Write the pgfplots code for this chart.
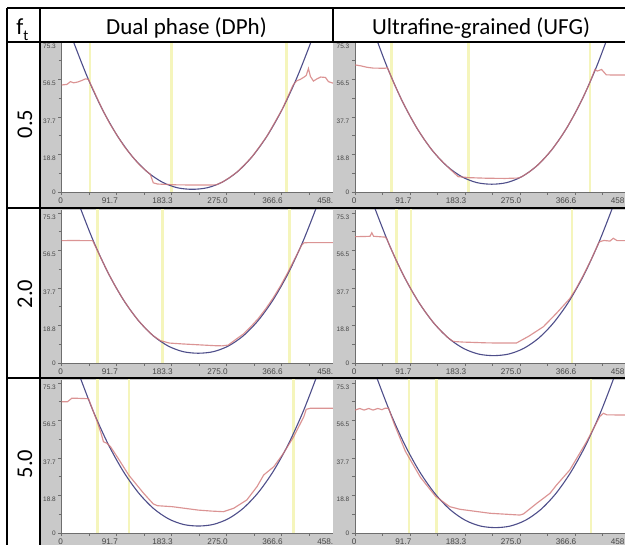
\documentclass[border=0pt]{standalone}
\usepackage{fontspec}
\setmainfont{Carlito}
\newfontfamily\ticksf{Liberation Sans}
\usepackage{pgfplots}
\pgfplotsset{compat=1.18}
\definecolor{panelgray}{RGB}{201,201,201}
\definecolor{axisgray}{RGB}{110,110,110}
\definecolor{labelgray}{RGB}{70,70,70}
\definecolor{bluec}{RGB}{78,78,138}
\definecolor{redc}{RGB}{210,118,118}
\definecolor{yellowc}{RGB}{245,245,188}
\pgfplotsset{
 panel/.style={
  scale only axis, width=274.9bp, anchor=south west,
  xmin=0, xmax=458.3, ymin=0,
  axis x line*=bottom, axis y line*=left,
  axis line style={draw=axisgray, line width=0.7bp, -},
  axis background/.style={fill=white},
  xtick={0,91.7,183.3,275.0,366.6,458.3},
  xticklabels={0,91.7,183.3,275.0,366.6,458.3},
  minor xtick={45.85,137.5,229.15,320.8,412.45},
  ytick={18.8,37.7,56.5,75.3},
  yticklabels={18.8,37.7,56.5,75.3},
  minor ytick={9.4,28.25,47.1,65.9},
  extra y ticks={0}, extra y tick labels={0},
  extra y tick style={yticklabel style={anchor=east, yshift=1.5bp}},
  tick align=outside, major tick length=3.5bp, minor tick length=3bp,
  every tick/.style={draw=axisgray, line width=0.6bp},
  tick label style={font=\ticksf\fontsize{8.2}{9}\selectfont, text=labelgray, inner sep=0pt},
  xticklabel style={anchor=north east, xshift=1.5bp, yshift=-2bp},
  yticklabel style={anchor=north east, xshift=-2bp, yshift=-1.5bp, font=\ticksf\fontsize{6.5}{7}\selectfont},
 },
 yel/.style={draw=yellowc, line width=2.6bp, no markers},
 blu/.style={draw=bluec, line width=1.1bp, smooth, no markers},
 rd/.style={draw=redc, line width=1.15bp, no markers, opacity=0.78},
}
\begin{document}
\begin{tikzpicture}[x=1bp,y=1bp]
\fill[white] (0,0) rectangle (625,545);
% column 2 cells
\fill[panelgray] (40,337) rectangle (333,503);
\fill[panelgray] (40,167) rectangle (333,337);
\fill[panelgray] (40,-5) rectangle (333,167);

% ---- DPh, 0.5
\begin{axis}[panel, at={(61.5bp,353bp)}, height=150bp, ymax=75.3]
\addplot[yel] coordinates {(47.5,0) (47.5,80)};
\addplot[yel] coordinates {(183.7,0) (183.7,80)};
\addplot[yel] coordinates {(375.4,0) (375.4,80)};
\addplot[blu] coordinates {(3,90.05) (18,77.0) (43,57.78) (68,41.52) (93,28.25) (118,17.82) (143,10.09) (168,4.94) (193,2.13) (218,1.35) (243,2.13) (268,4.94) (293,10.09) (318,17.82) (343,28.25) (368,41.52) (393,57.78) (418,77.0) (433,90.05)};
\addplot[rd] coordinates {(0,53.7) (9,54.0) (15,55.4) (20,54.8) (27,55.2) (34,56.0) (40,56.8) (45,56.5) (55,50.0) (68,41.52) (80,34.6) (93,28.25) (105,22.7) (118,17.82) (130,13.6) (143,10.09) (148,8.9) (153,4.6) (160,4.0) (190,3.6) (220,3.5) (245,3.5) (258,3.6) (268,4.94) (280,7.2) (293,10.09) (305,13.6) (318,17.82) (330,22.7) (343,28.25) (355,34.6) (368,41.52) (386,53.6) (392,55.8) (398,56.5) (404,57.6) (408,58.5) (411.7,62) (415,58) (420,55.7) (426,56.8) (432,57.7) (440,57.5) (445,55.4) (453,54.6) (458.3,54.6)};
\end{axis}

% ---- DPh, 2.0
\begin{axis}[panel, at={(61.5bp,182bp)}, height=153bp, ymax=76.8]
\addplot[yel] coordinates {(59.7,0) (59.7,80)};
\addplot[yel] coordinates {(168,0) (168,80)};
\addplot[yel] coordinates {(379.7,0) (379.7,80)};
\addplot[blu] coordinates {(13,93.6) (28,80.55) (53,61.33) (78,45.07) (103,31.8) (128,21.37) (153,13.64) (178,8.49) (203,5.68) (228,4.9) (253,5.68) (278,8.49) (303,13.64) (328,21.37) (353,31.8) (378,45.07) (403,61.33) (428,80.55) (443,93.6)};
\addplot[rd] coordinates {(0,61.4) (20,61.5) (40,61.4) (52,61.4) (65.5,52.8) (78,45.07) (90.5,38.1) (103,31.8) (115.5,26.25) (128,21.37) (140.5,17.19) (153,13.64) (165,11.2) (180,10.0) (200,9.6) (230,9.1) (255,8.7) (268,8.6) (278,9.0) (290.5,11.8) (303,14.5) (315.5,18.2) (328,22.3) (340.5,27.2) (353,32.7) (365.5,38.9) (378,45.8) (390.5,53.3) (400,59.0) (404,60.3) (410,60.4) (458.3,60.4)};
\end{axis}

% ---- DPh, 5.0
\begin{axis}[panel, at={(61.5bp,12bp)}, height=153bp, ymax=76.8]
\addplot[yel] coordinates {(59.7,0) (59.7,80)};
\addplot[yel] coordinates {(112.5,0) (112.5,80)};
\addplot[yel] coordinates {(386.4,0) (386.4,80)};
\addplot[blu] coordinates {(13,94.0) (28,80.66) (53,61.06) (78,44.47) (103,30.94) (128,20.3) (153,12.41) (178,7.16) (203,4.3) (228,3.5) (253,4.3) (278,7.16) (303,12.41) (328,20.3) (353,30.94) (378,44.47) (403,61.06) (428,80.66) (443,94.0)};
\addplot[rd] coordinates {(0,65.9) (10,65.9) (17,67.6) (27,67.6) (45,67.4) (53,61.06) (60,55.5) (66,50.0) (70,45.8) (76,45.0) (82,43.2) (95,37.2) (112,29.1) (137,19.9) (153,14.6) (160,13.7) (185,13.2) (228,11.5) (250,11.0) (270,10.7) (287,12.4) (309,16.6) (326,23.3) (337,29.1) (354,33.3) (370,40.0) (387,48.3) (404,58.4) (408,62.1) (415,62.6) (458.3,62.6)};
\end{axis}

% column 3 cells
\fill[panelgray] (333,337) rectangle (635,503);
\fill[panelgray] (333,167) rectangle (635,337);
\fill[panelgray] (333,-5) rectangle (635,167);

% ---- UFG, 0.5
\begin{axis}[panel, at={(355bp,353bp)}, height=150bp, ymax=75.3]
\addplot[yel] coordinates {(61,0) (61,80)};
\addplot[yel] coordinates {(188.9,0) (188.9,80)};
\addplot[yel] coordinates {(391.7,0) (391.7,80)};
\addplot[blu] coordinates {(13,97.0) (28,83.33) (53,63.15) (78,46.08) (103,32.15) (128,21.19) (153,13.08) (178,7.67) (203,4.72) (228,3.9) (253,4.72) (278,7.67) (303,13.08) (328,21.19) (353,32.15) (378,46.08) (403,63.15) (428,83.33) (443,97.0)};
\addplot[rd] coordinates {(0,63.8) (10,63.3) (20,62.6) (30,62.2) (50,62.1) (54,62.4) (65.5,54.2) (78,46.08) (90.5,38.76) (103,32.15) (115.5,26.32) (128,21.19) (140.5,16.8) (153,13.08) (164,9.9) (172,7.7) (190,7.2) (220,6.9) (250,6.8) (272,7.0) (278,7.67) (290.5,10.05) (303,13.08) (315.5,16.8) (328,21.19) (340.5,26.32) (353,32.15) (365.5,38.76) (378,46.08) (390.5,54.2) (400,61.5) (404,60.7) (411,61.5) (419,58.8) (435,58.7) (458.3,58.7)};
\end{axis}

% ---- UFG, 2.0
\begin{axis}[panel, at={(355bp,182bp)}, height=153bp, ymax=76.8]
\addplot[yel] coordinates {(69.5,0) (69.5,80)};
\addplot[yel] coordinates {(93.3,0) (93.3,80)};
\addplot[yel] coordinates {(362,0) (362,80)};
\addplot[blu] coordinates {(16,92.4) (31,79.35) (56,60.13) (81,43.87) (106,30.6) (131,20.17) (156,12.44) (181,7.29) (206,4.48) (231,3.7) (256,4.48) (281,7.29) (306,12.44) (331,20.17) (356,30.6) (381,43.87) (406,60.13) (431,79.35) (446,92.4)};
\addplot[rd] coordinates {(0,63.4) (15,63.5) (25,63.6) (28,65.4) (31,63.6) (45,63.3) (50,63.2) (53,62.4) (56,60.13) (68.5,51.6) (81,43.87) (93.5,36.9) (106,30.6) (118.5,25.05) (131,20.17) (143.5,15.99) (156,12.44) (164,10.8) (180,10.5) (220,10.1) (250,10.0) (269,10.0) (290,13.5) (314,18.2) (336,25.0) (358,32.3) (368.5,37.3) (381,44.2) (393.5,51.8) (406,60.13) (408,60.9) (415,61.5) (425,61.2) (430.6,62.6) (437,61.4) (458.3,61.4)};
\end{axis}

% ---- UFG, 5.0
\begin{axis}[panel, at={(355bp,12bp)}, height=153bp, ymax=76.8]
\addplot[yel] coordinates {(90,0) (90,80)};
\addplot[yel] coordinates {(136.2,0) (136.2,80)};
\addplot[yel] coordinates {(393.4,0) (393.4,80)};
\addplot[blu] coordinates {(19,93.2) (34,79.86) (59,60.26) (84,43.67) (109,30.14) (134,19.5) (159,11.61) (184,6.36) (209,3.5) (234,2.7) (259,3.5) (284,6.36) (309,11.61) (334,19.5) (359,30.14) (384,43.67) (409,60.26) (434,79.86) (449,93.2)};
\addplot[rd] coordinates {(0,61.7) (8,62.5) (15,61.7) (23,62.5) (30,61.7) (38,62.5) (45,61.9) (50,62.6) (56,62.6) (65,55.0) (84,41.0) (109,28.0) (134,18.5) (158,13.2) (175,11.9) (225,9.9) (275,9.0) (281,9.6) (303,14.9) (325,19.9) (336,24.1) (358,31.6) (386,45.8) (408,58.4) (414,60.1) (420,59.3) (458.3,59.2)};
\end{axis}

% table lines
\begin{scope}[line width=2.2bp, draw=black]
\draw (7,537) -- (635,537);
\draw (7,503) -- (635,503);
\draw (7,337) -- (635,337);
\draw (7,167) -- (635,167);
\draw (7,-5) -- (7,537);
\draw (40,-5) -- (40,537);
\draw (333,503) -- (333,537);
\end{scope}

% header texts
\node[anchor=base, font=\fontsize{23bp}{27bp}\selectfont, inner sep=0pt] at (186.5,510) {Dual phase (DPh)};
\node[anchor=base, font=\fontsize{23bp}{27bp}\selectfont, inner sep=0pt] at (481,510) {Ultrafine-grained (UFG)};
\node[anchor=base, font=\fontsize{23bp}{27bp}\selectfont, inner sep=0pt] at (22.5,510) {f\raisebox{-0.22em}{\fontsize{15bp}{15bp}\selectfont t}};
\node[rotate=90, font=\fontsize{22.5bp}{26bp}\selectfont, inner sep=0pt] at (25,421) {0.5};
\node[rotate=90, font=\fontsize{22.5bp}{26bp}\selectfont, inner sep=0pt] at (25,251) {2.0};
\node[rotate=90, font=\fontsize{22.5bp}{26bp}\selectfont, inner sep=0pt] at (25,81) {5.0};

\pgfresetboundingbox
\useasboundingbox (0,0) rectangle (625,545);
\end{tikzpicture}
\end{document}
